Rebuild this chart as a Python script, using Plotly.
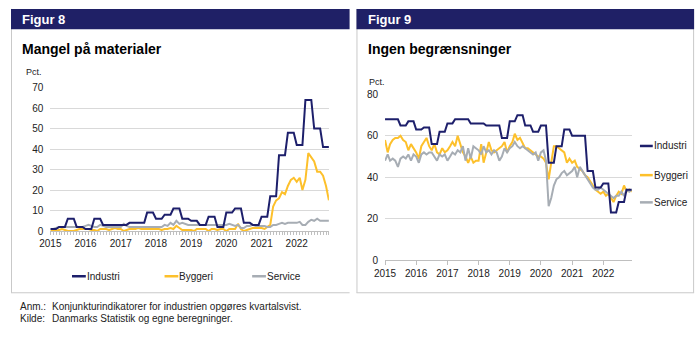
import pandas as pd
import plotly.graph_objects as go

# ---------------- data ----------------
months = pd.date_range("2015-01-01", "2022-12-01", freq="MS")
series_names = ["Industri", "Byggeri", "Service"]

# Figur 8: Mangel på materialer (pct.)
mat_industri = [
    1, 1, 1, 2, 2, 2, 6, 6, 6, 2, 2, 2,
    1, 1, 1, 6, 6, 6, 3, 3, 3, 3, 3, 3,
    3, 3, 3, 4, 4, 4, 4, 4, 4, 9, 9, 9,
    6, 6, 6, 8, 8, 8, 11, 11, 11, 6, 6, 6,
    5, 5, 5, 3, 3, 3, 7, 7, 7, 2, 2, 2,
    9, 9, 9, 11, 11, 11, 4, 4, 4, 3, 3, 3,
    7, 7, 7, 17, 17, 17, 37, 37, 37, 48, 48, 48,
    42, 42, 42, 64, 64, 64, 50, 50, 50, 41, 41, 41,
]
mat_byggeri = [
    0, 0, 0, 0.5, 1, 0.5, 0, 0, 0, 0.5, 1, 1,
    1, 1, 0.5, 0.5, 0, 1, 1, 1, 0.5, 1, 1.5, 1,
    1, 0, 0.5, 1, 1, 1, 1.5, 1, 1, 1, 1, 1,
    1, 1, 0.5, 1, 1, 1.5, 1, 2.5, 1.5, 0.5, 0.5, 0.5,
    0.5, 0, 1, 1, 1, 1, 0, 1, 1, 0.5, 1, 1,
    0, 1, 1, 1, 3.5, 1, 0, 0.5, 1, 1.5, 1.5, 1.5,
    1.5, 1, 2, 3, 12, 15, 16, 19, 18, 22, 25, 26,
    24, 26, 20, 25, 38, 36, 34, 29, 29, 27, 22, 15,
]
mat_service = [
    1, 1, 1.5, 2, 2, 2, 2, 2, 2, 2, 2, 2,
    2.5, 3, 2.5, 2, 2, 3, 2.5, 2, 2, 2, 2, 2,
    2, 3.5, 2.5, 2, 2, 2, 2, 2, 2, 2, 2, 2,
    2, 2, 2, 3, 2.5, 4, 3, 5, 3.5, 4, 3.5, 3,
    3, 3, 3, 3, 3, 3, 3, 3, 3, 3, 3, 3,
    3, 3.5, 3, 2.5, 3, 1.5, 1.5, 2.5, 2.5, 3, 2.5, 2.5,
    2.5, 2.5, 2, 2, 3, 3, 3.5, 4, 3.5, 4, 4, 4,
    4, 4.5, 3, 3, 4.5, 5.5, 5, 6, 5, 5, 5, 5,
]

# Figur 9: Ingen begrænsninger (pct.)
ing_industri = [
    68, 68, 68, 68, 68, 68, 65, 65, 65, 67, 67, 67,
    63, 63, 63, 64, 64, 64, 56, 56, 56, 62, 62, 62,
    66, 66, 66, 68, 68, 68, 68, 68, 68, 66, 66, 66,
    66, 66, 66, 65, 65, 65, 65, 65, 65, 59, 59, 59,
    67, 67, 67, 70, 70, 70, 65, 65, 65, 62, 62, 62,
    65, 65, 65, 47, 47, 47, 55, 55, 55, 63, 63, 63,
    60, 60, 60, 60, 60, 60, 43, 43, 43, 35, 35, 35,
    37, 37, 37, 23, 23, 23, 28, 28, 28, 34, 34, 34,
]
ing_byggeri = [
    58, 52, 56, 58, 59, 59, 60, 58, 57, 53, 56, 54,
    52, 49, 55, 57, 59, 55, 53, 56, 52, 51, 54, 52,
    53, 55, 57, 55, 60, 56, 52, 50, 47, 50, 47, 48,
    48, 56, 47, 52, 57, 53, 52, 53, 54, 55, 57, 52,
    55, 57, 61, 58, 59, 56, 54, 54, 53, 52, 51, 50,
    50, 49, 47, 39, 47, 55, 55, 54, 53, 52, 47, 49,
    47, 48, 45, 44, 43, 41, 40, 38, 36, 34, 33, 32,
    33, 31, 32, 30, 28, 31, 33, 32, 36, 33, 34, 33,
]
ing_service = [
    48, 51, 48, 49, 48, 45, 49, 50, 49, 51, 48, 51,
    50, 47, 51, 52, 51, 52, 52, 50, 48, 51, 50, 51,
    48, 50, 52, 51, 53, 52, 55, 48, 54, 49, 55, 54,
    53, 51, 55, 52, 53, 51, 53, 52, 48, 50, 54, 52,
    54, 55, 57, 55, 54, 55, 54, 53, 52, 51, 52, 48,
    52, 53, 48, 26, 30, 36, 39, 40, 42, 43, 41, 42,
    43, 45, 40, 45, 43, 41, 39, 37, 35, 34, 34, 35,
    34, 33, 32, 31, 30, 31, 31, 33, 31, 34, 33, 34,
]

# ---------------- styling ----------------
FONT = "Liberation Sans, Arial, sans-serif"
NAVY = "#1f2066"
COLORS = {"Industri": "#1d1f6b", "Byggeri": "#fdc02b", "Service": "#a7adb4"}
GRID = "#d9d9d9"
AXIS = "#bfbfbf"
BORDER = "#c9c9c9"
TXT = "#222222"
W, H = 700, 360


def px(x):
    return x / W


def py(y):
    return 1 - y / H


fig = go.Figure()

left = {"Industri": mat_industri, "Byggeri": mat_byggeri, "Service": mat_service}
right = {"Industri": ing_industri, "Byggeri": ing_byggeri, "Service": ing_service}
draw_order = ["Byggeri", "Service", "Industri"]

for name in draw_order:
    fig.add_trace(go.Scatter(x=months, y=left[name], name=name, mode="lines",
                             line=dict(color=COLORS[name], width=2),
                             xaxis="x", yaxis="y", showlegend=False))
for name in draw_order:
    fig.add_trace(go.Scatter(x=months, y=right[name], name=name, mode="lines",
                             line=dict(color=COLORS[name], width=2),
                             xaxis="x2", yaxis="y2", showlegend=False))

xcommon = dict(type="date", range=["2015-01-01", "2022-12-01"], tick0="2015-01-01",
               dtick="M12", tickformat="%Y", showgrid=False, zeroline=False,
               showline=True, linecolor=AXIS, linewidth=1, ticks="outside",
               tickcolor=AXIS, tickfont=dict(family=FONT, size=10, color=TXT))
ycommon = dict(showgrid=True, gridcolor=GRID, gridwidth=1, zeroline=False,
               showline=False, ticks="", ticklabelstandoff=6,
               tickfont=dict(family=FONT, size=10, color=TXT))

fig.update_layout(
    width=W, height=H, autosize=False,
    margin=dict(l=0, r=0, t=0, b=0, pad=0),
    paper_bgcolor="white", plot_bgcolor="white",
    font=dict(family=FONT, size=10, color=TXT),
    showlegend=False,
    xaxis=dict(xcommon, domain=[px(40), px(323)], anchor="y", ticklen=3,
               minor=dict(dtick="M1", ticks="outside", ticklen=3, tickcolor=AXIS)),
    yaxis=dict(ycommon, domain=[py(232.5), py(85)], anchor="x", range=[0, 70], dtick=10),
    xaxis2=dict(xcommon, domain=[px(380), px(630.7)], anchor="y2", ticklen=4),
    yaxis2=dict(ycommon, domain=[py(262.3), py(92)], anchor="x2", range=[0, 80], dtick=20),
)

shapes = []
ann = []


def hline(x0, x1, y):
    shapes.append(dict(type="line", xref="paper", yref="paper", x0=px(x0), x1=px(x1),
                       y0=py(y), y1=py(y), line=dict(color=BORDER, width=1), layer="below"))


def vline(x, y0, y1):
    shapes.append(dict(type="line", xref="paper", yref="paper", x0=px(x), x1=px(x),
                       y0=py(y0), y1=py(y1), line=dict(color=BORDER, width=1), layer="below"))


# panel frames
hline(0, 344, 296)
vline(0.5, 4, 296)
hline(351, 694, 296)
vline(351.5, 4, 296)
vline(693.5, 4, 296)

# header bars
for x0, x1 in [(0, 344), (351, 694)]:
    shapes.append(dict(type="rect", xref="paper", yref="paper", x0=px(x0), x1=px(x1),
                       y0=py(25), y1=py(4), line=dict(width=0), fillcolor=NAVY))


def text(x, y, s, size=10, bold=False, color=TXT, anchor="left"):
    ann.append(dict(xref="paper", yref="paper", x=px(x), y=py(y), text=f"<b>{s}</b>" if bold else s,
                    showarrow=False, xanchor=anchor, yanchor="middle",
                    font=dict(family=FONT, size=size, color=color)))


text(9, 15, "Figur 8", 13, True, "white")
text(361, 15, "Figur 9", 13, True, "white")
text(9, 45, "Mangel på materialer", 14, True, "#000000")
text(361, 45, "Ingen begrænsninger", 14, True, "#000000")
text(13, 69, "Pct.", 9)
text(362, 79, "Pct.", 9)

# legends (left: horizontal below chart, right: vertical beside chart)
left_leg = [(62, 279), (156, 279), (245, 279)]
right_leg = [(639, 145), (639, 175), (639, 203)]
for name, (lx, ly) in zip(series_names, left_leg):
    shapes.append(dict(type="line", xref="paper", yref="paper", x0=px(lx), x1=px(lx + 14),
                       y0=py(ly), y1=py(ly), line=dict(color=COLORS[name], width=2.5)))
    text(lx + 13, ly, name, 10)
for name, (lx, ly) in zip(series_names, right_leg):
    shapes.append(dict(type="line", xref="paper", yref="paper", x0=px(lx), x1=px(lx + 13),
                       y0=py(ly), y1=py(ly), line=dict(color=COLORS[name], width=2.5)))
    text(lx + 12, ly, name, 10)

# notes
text(7, 310, "Anm.:", 10)
text(40, 310, "Konjunkturindikatorer for industrien opgøres kvartalsvist.", 10)
text(7, 322, "Kilde:", 10)
text(40, 322, "Danmarks Statistik og egne beregninger.", 10)

fig.update_layout(shapes=shapes, annotations=ann)
fig.write_html("out.html", config={"displayModeBar": False},
               post_script="document.body.style.margin='0';document.body.style.padding='0';")
